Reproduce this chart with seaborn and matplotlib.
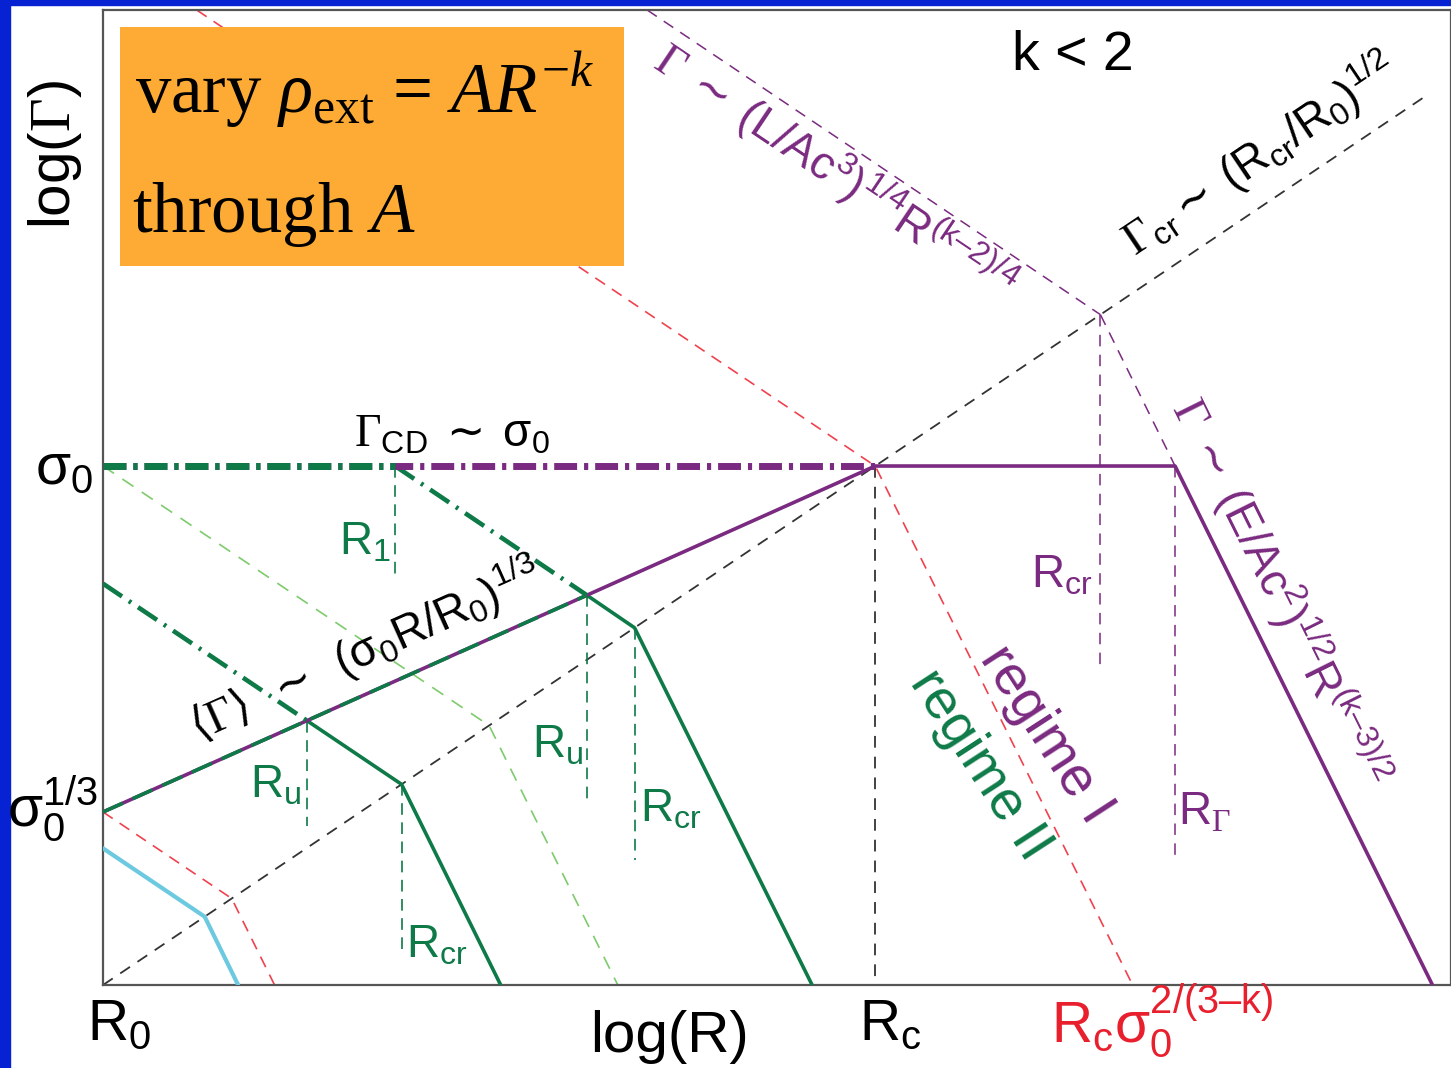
import numpy as np
import matplotlib
matplotlib.use("Agg")
import matplotlib.pyplot as plt
import seaborn as sns
from matplotlib.patches import Rectangle

sns.set_theme(style="white")
plt.rcParams["font.family"] = ["Liberation Sans", "DejaVu Sans"]
plt.rcParams["text.color"] = "black"
plt.rcParams["mathtext.fontset"] = "custom"
plt.rcParams["mathtext.rm"] = "Liberation Serif"
plt.rcParams["mathtext.it"] = "Liberation Serif:italic"
plt.rcParams["mathtext.sf"] = "Liberation Sans"
plt.rcParams["mathtext.tt"] = "DejaVu Sans"
plt.rcParams["mathtext.default"] = "sf"
plt.rcParams["mathtext.fallback"] = "stixsans"

# ---- colours ----
PURPLE = "#7A2A80"
GREEN = "#0E7A48"
LGREEN = "#7DCB6C"
RED = "#F0424E"
RED_TXT = "#E8202E"
CYAN = "#6CC9E0"
BLACK = "#333333"
ORANGE = "#FDAB34"
BLUE = "#0622D2"

# ---- schematic in log space: x = log(R/R0), y = log(Gamma), log(sigma0) = 3 ----
x_max, y_max = 10.474, 5.636

# mean Lorentz factor <Gamma> ~ (sigma0 R/R0)^{1/3}, plateau at sigma0, then decline
purple_x = [0.0, 6.0, 8.33, 10.33]
purple_y = [1.0, 3.0, 3.0, 0.0]
# Gamma_cr ~ (R/R0)^{1/2}
gcr_x = [0.0, 10.31]
gcr_y = [0.0, 5.155]
# Gamma ~ (L/Ac^3)^{1/4} R^{(k-2)/4} and its E-branch above sigma0
lbranch_x = [4.0, 7.75]
lbranch_y = [5.75, 3.875]
ebranch_x = [7.75, 8.33]
ebranch_y = [3.875, 3.0]
# red reference tracks
red1_x = [0.5, 6.0, 8.0]
red1_y = [5.75, 3.0, 0.0]
red2_x = [0.0, 1.0, 1.333]
red2_y = [1.0, 0.5, 0.0]
# regime II tracks (green): dash-dot part above <Gamma>, solid part below
g1_dd_x = [0.0, 1.585]
g1_dd_y = [2.32, 1.528]
g1_x = [1.585, 2.32, 3.09]
g1_y = [1.528, 1.16, 0.0]
g2_dd_x = [2.27, 3.76]
g2_dd_y = [3.0, 2.253]
g2_x = [3.76, 4.13, 5.51]
g2_y = [2.253, 2.065, 0.0]
lg_x = [0.0, 3.0, 4.0]
lg_y = [3.0, 1.5, 0.0]
cyan_x = [0.0, 0.79, 1.05]
cyan_y = [0.79, 0.395, 0.0]
# Gamma_CD ~ sigma0
cd_x = [0.0, 6.0]
cd_y = [3.0, 3.0]
cd_green_x = [0.0, 2.27]
# green overlay along <Gamma>
overlay_x = [0.0, 3.76]
overlay_y = [1.0, 2.253]
# vertical markers (x, y_top, y_bottom)
green_drops = [(2.27, 3.0, 2.37), (1.585, 1.528, 0.92), (2.32, 1.16, 0.2),
               (3.76, 2.253, 1.07), (4.13, 2.065, 0.72)]
black_drops = [(6.0, 3.0, 0.0)]
purple_drops = [(7.75, 3.875, 1.82), (8.33, 3.0, 0.75)]

W, H = 1451, 1068
fig = plt.figure(figsize=(W / 100, H / 100), dpi=100)
fig.patch.set_facecolor("white")
fig.add_artist(Rectangle((0, 0), 10 / W, 1, transform=fig.transFigure,
                         color=BLUE, zorder=0))
fig.add_artist(Rectangle((0, 1 - 5 / H), 1, 5 / H, transform=fig.transFigure,
                         color=BLUE, zorder=0))

ax = fig.add_axes([103 / W, 83 / H, 1348 / W, 975 / H])
ax.set_xlim(0, x_max)
ax.set_ylim(0, y_max)
ax.set_xticks([])
ax.set_yticks([])
for s in ax.spines.values():
    s.set_color("#555555")
    s.set_linewidth(1.6)


def seg(xs, ys, color, lw, ls="-", z=2):
    sns.lineplot(x=xs, y=ys, sort=False, estimator=None, ax=ax, color=color,
                 linewidth=lw, linestyle=ls, legend=False, zorder=z)


thin = (0, (7, 5))
seg(gcr_x, gcr_y, BLACK, 1.3, (0, (6.5, 5)), 1)
seg(red1_x, red1_y, RED, 1.2, thin, 1)
seg(red2_x, red2_y, RED, 1.2, thin, 1)
seg(lg_x, lg_y, LGREEN, 1.2, (0, (8, 6)), 1)
seg(lbranch_x, lbranch_y, PURPLE, 1.1, (0, (7.5, 5.5)), 1)
seg(ebranch_x, ebranch_y, PURPLE, 1.1, (0, (7.5, 5.5)), 1)
for x, yt, yb in black_drops:
    seg([x, x], [yt, yb], BLACK, 1.3, (0, (6.5, 5)), 1)
for x, yt, yb in purple_drops:
    seg([x, x], [yt, yb], PURPLE, 1.1, (0, (7.5, 5.5)), 1)
for x, yt, yb in green_drops:
    seg([x, x], [yt, yb], GREEN, 1.2, (0, (7, 4.5)), 1)

seg(cyan_x, cyan_y, CYAN, 3.0, "-", 3)
seg(g1_x, g1_y, GREEN, 2.6, "-", 3)
seg(g2_x, g2_y, GREEN, 2.6, "-", 3)
seg(purple_x, purple_y, PURPLE, 2.6, "-", 3)
seg(overlay_x, overlay_y, GREEN, 2.6, (0, (6, 3)), 3.5)
dd = (0, (5, 1.8, 0.6, 1.8))
seg(g1_dd_x, g1_dd_y, GREEN, 3.3, dd, 3)
seg(g2_dd_x, g2_dd_y, GREEN, 3.3, dd, 3)
seg(cd_x, cd_y, PURPLE, 5.0, (0, (3.3, 1.0, 0.6, 1.0)), 3)
seg(cd_green_x, cd_y, GREEN, 5.0, (0, (3.3, 1.0, 0.6, 1.0)), 3.2)

# orange annotation box
ax.add_patch(Rectangle((0.132, 4.156), 3.916, 1.382, facecolor=ORANGE,
                       edgecolor="none", zorder=5))
SERIF = ["Liberation Serif", "DejaVu Serif"]
ax.text(0.245, 5.045, r"vary $\mathit{\rho}_{\mathrm{ext}}$ = $\mathit{AR}^{\mathit{-k}}$",
        fontsize=51, family=SERIF, ha="left", va="baseline", zorder=6)
ax.text(0.225, 4.353, r"through $\mathit{A}$", fontsize=51, family=SERIF,
        ha="left", va="baseline", zorder=6)


def lab(x, y, s, color="black", size=33, rot=0.0):
    ax.text(x, y, s, color=color, fontsize=size, ha="center", va="center",
            rotation=rot, rotation_mode="anchor", transform_rotates_text=True,
            zorder=6)


def deg(m):
    return np.degrees(np.arctan(m))


SIM = r"\mathtt{\sim}"

# axis labels
ax.text(-0.373, 4.80, r"log($\mathrm{\Gamma}$)", fontsize=42, rotation=90,
        ha="center", va="center")
ax.text(4.40, -0.30, "log(R)", fontsize=42, ha="center", va="center")
# tick-style labels
ax.text(-0.30, 2.98, r"$\sigma_0$", fontsize=41, ha="center", va="center")
ax.text(-0.39, 1.02, r"$\sigma_0^{1/3}$", fontsize=41, ha="center", va="center")
ax.text(0.124, -0.23, r"R$_0$", fontsize=41, ha="center", va="center")
ax.text(6.115, -0.23, r"R$_c$", fontsize=41, ha="center", va="center")
ax.text(8.23, -0.21, r"R$_c\sigma_0^{2/(3–k)}$", fontsize=41, ha="center",
        va="center", color=RED_TXT)
ax.text(7.537, 5.37, "k < 2", fontsize=40, ha="center", va="center")

# line annotations
lab(2.71, 3.18, r"$\mathrm{\Gamma}_{CD}\ " + SIM + r"\ \sigma_0$")
lab(2.036, 1.936,
    r"$\mathtt{\langle}\mathrm{\Gamma}\mathtt{\rangle}\ \ " + SIM
    + r"\ \ (\sigma_0R/R_0)^{1/3}$",
    rot=deg(1 / 3))
lab(5.69, 4.70, r"$\mathrm{\Gamma}\ " + SIM + r"\ (L/Ac^3)^{1/4}R^{(k–2)/4}$",
    color=PURPLE, rot=deg(-1 / 2))
lab(8.99, 4.80, r"$\mathrm{\Gamma}_{cr}" + SIM + r"\ (R_{cr}/R_0)^{1/2}$",
    rot=deg(1 / 2))
lab(9.145, 2.27, r"$\mathrm{\Gamma}\ " + SIM + r"\ (E/Ac^2)^{1/2}R^{(k–3)/2}$",
    color=PURPLE, rot=deg(-3 / 2))
ax.text(7.32, 1.445, "regime I", color=PURPLE, fontsize=40, rotation=-57,
        ha="center", va="center", rotation_mode="anchor", zorder=6)
ax.text(6.81, 1.27, "regime II", color=GREEN, fontsize=40, rotation=-57,
        ha="center", va="center", rotation_mode="anchor", zorder=6)

for x, y, s in [(2.036, 2.555, r"R$_1$"), (1.344, 1.156, r"R$_u$"),
                (2.595, 0.231, r"R$_{cr}$"), (3.535, 1.387, r"R$_u$"),
                (4.413, 1.012, r"R$_{cr}$")]:
    lab(x, y, s, color=GREEN)
lab(7.45, 2.37, r"R$_{cr}$", color=PURPLE)
lab(8.56, 1.0, r"R$_{\mathrm{\Gamma}}$", color=PURPLE)

fig.savefig("out.png", dpi=100, facecolor="white")
